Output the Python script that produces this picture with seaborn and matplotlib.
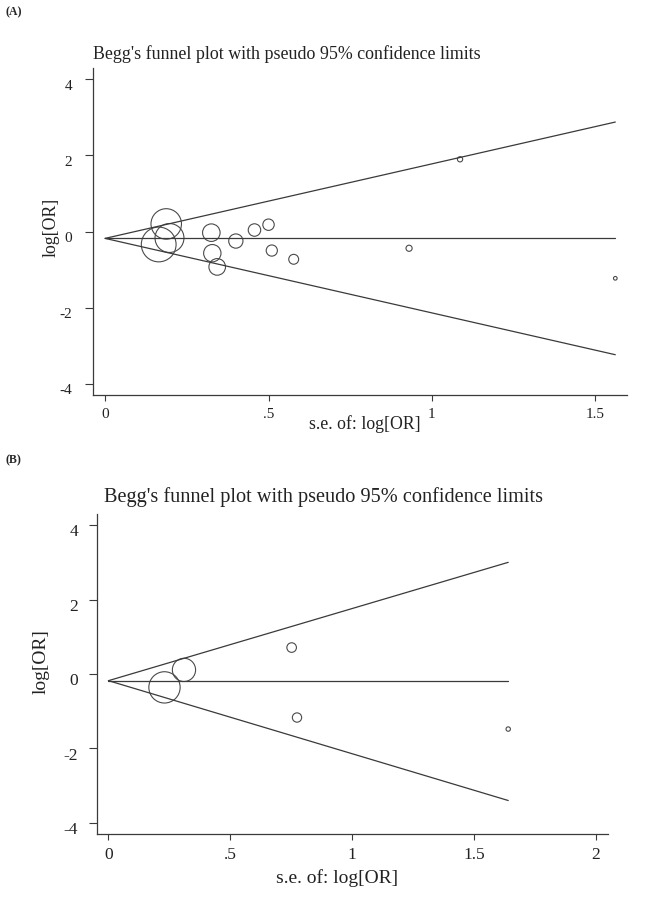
import numpy as np
import pandas as pd
import matplotlib
matplotlib.use("Agg")
import matplotlib.pyplot as plt
import matplotlib.transforms as mtransforms
import seaborn as sns

# ---- panel A: Begg's funnel plot ----
a_se = [0.187, 0.197, 0.164, 0.325, 0.328, 0.343, 0.400, 0.457, 0.500, 0.510, 0.577, 0.930, 1.086, 1.561]
a_logor = [0.20, -0.17, -0.34, -0.03, -0.57, -0.93, -0.25, 0.04, 0.18, -0.50, -0.73, -0.44, 1.90, -1.23]
a_line_se = [0.0, 1.561]
a_center = [-0.18, -0.18]
a_upper = [-0.18, 2.88]
a_lower = [-0.18, -3.24]

# ---- panel B ----
b_se = [0.230, 0.310, 0.752, 0.774, 1.641]
b_logor = [-0.36, 0.11, 0.71, -1.17, -1.48]
b_line_se = [0.0, 1.641]
b_center = [-0.18, -0.18]
b_upper = [-0.18, 3.00]
b_lower = [-0.18, -3.40]

titulo = "Begg's funnel plot with pseudo 95% confidence limits"
yticks = [-4, -2, 0, 2, 4]
yticklabels = ["-4", "-2", "0", "2", "4"]

sns.set_style("ticks")
plt.rcParams["font.family"] = ["Liberation Serif", "DejaVu Serif"]

LINEA = "#3a3a3a"
CIRC = "#4a4a4a"
DPI = 100


def funnel(fig, ax, se, logor, line_se, center, upper, lower, k, xticks, xlabels,
           fs_tick, fs_lab, fs_title, ypad, title_x, title_y, xlab_pos, ylab_pos, xlim):
    # lineas del embudo
    for yy in (upper, center, lower):
        sns.lineplot(x=line_se, y=yy, ax=ax, color=LINEA, lw=0.9, sort=False)
    # tamaño del circulo proporcional al peso (1/se^2)
    se_arr = np.asarray(se)
    diam_pt = 2 * (k / se_arr) * 72 / DPI
    df = pd.DataFrame({"se": se, "logor": logor})
    sns.scatterplot(data=df, x="se", y="logor", ax=ax, s=diam_pt ** 2,
                    facecolor="none", edgecolor=CIRC, linewidth=0.8, legend=False)
    ax.set_xlim(*xlim)
    ax.set_ylim(-4.3, 4.3)
    ax.set_yticks(yticks)
    ax.set_yticklabels(yticklabels)
    ax.set_xticks(xticks)
    ax.set_xticklabels(xlabels)
    ax.tick_params(axis="y", length=5.5, width=0.8, color=LINEA, pad=ypad,
                   labelsize=fs_tick, labelcolor="#222222")
    ax.tick_params(axis="x", length=4, width=0.8, color=LINEA, pad=5,
                   labelsize=fs_tick, labelcolor="#222222")
    # las etiquetas del eje y quedan un poco por debajo de la marca
    off = mtransforms.ScaledTranslation(0, -3.8 / 72, fig.dpi_scale_trans)
    for lab in ax.get_yticklabels():
        lab.set_transform(lab.get_transform() + off)
    sns.despine(ax=ax)
    for s in ("left", "bottom"):
        ax.spines[s].set_color(LINEA)
        ax.spines[s].set_linewidth(0.9)
    ax.set_xlabel("s.e. of: log[OR]", fontsize=fs_lab, color="#222222")
    ax.set_ylabel("log[OR]", fontsize=fs_lab, color="#222222")
    ax.xaxis.set_label_coords(*xlab_pos)
    ax.yaxis.set_label_coords(*ylab_pos)
    ax.text(title_x, title_y, titulo, transform=ax.transAxes, ha="left", va="center",
            fontsize=fs_title, color="#222222")


fig = plt.figure(figsize=(6.45, 8.99), dpi=DPI)
ax1 = fig.add_axes([0.1442, 0.5606, 0.828, 0.3637])
ax2 = fig.add_axes([0.1504, 0.0723, 0.792, 0.356])

funnel(fig, ax1, a_se, a_logor, a_line_se, a_center, a_upper, a_lower, 2.85,
       [0, 0.5, 1, 1.5], ["0", ".5", "1", "1.5"], 11, 12.8, 12.9, 9.5,
       0.0, 1.043, (0.509, -0.062), (-0.062, 0.514), (-0.037, 1.597))
funnel(fig, ax2, b_se, b_logor, b_line_se, b_center, b_upper, b_lower, 3.6,
       [0, 0.5, 1, 1.5, 2], ["0", ".5", "1", "1.5", "2"], 12.5, 14, 14.6, 8,
       0.014, 1.053, (0.47, -0.109), (-0.092, 0.54), (-0.047, 2.05))

fig.text(5 / 645, 1 - 12 / 899, "(A)", fontsize=8.5, fontweight="bold", va="center")
fig.text(5 / 645, 1 - 460 / 899, "(B)", fontsize=8.5, fontweight="bold", va="center")

fig.savefig("out.png", dpi=DPI, facecolor="white")
plt.close(fig)
